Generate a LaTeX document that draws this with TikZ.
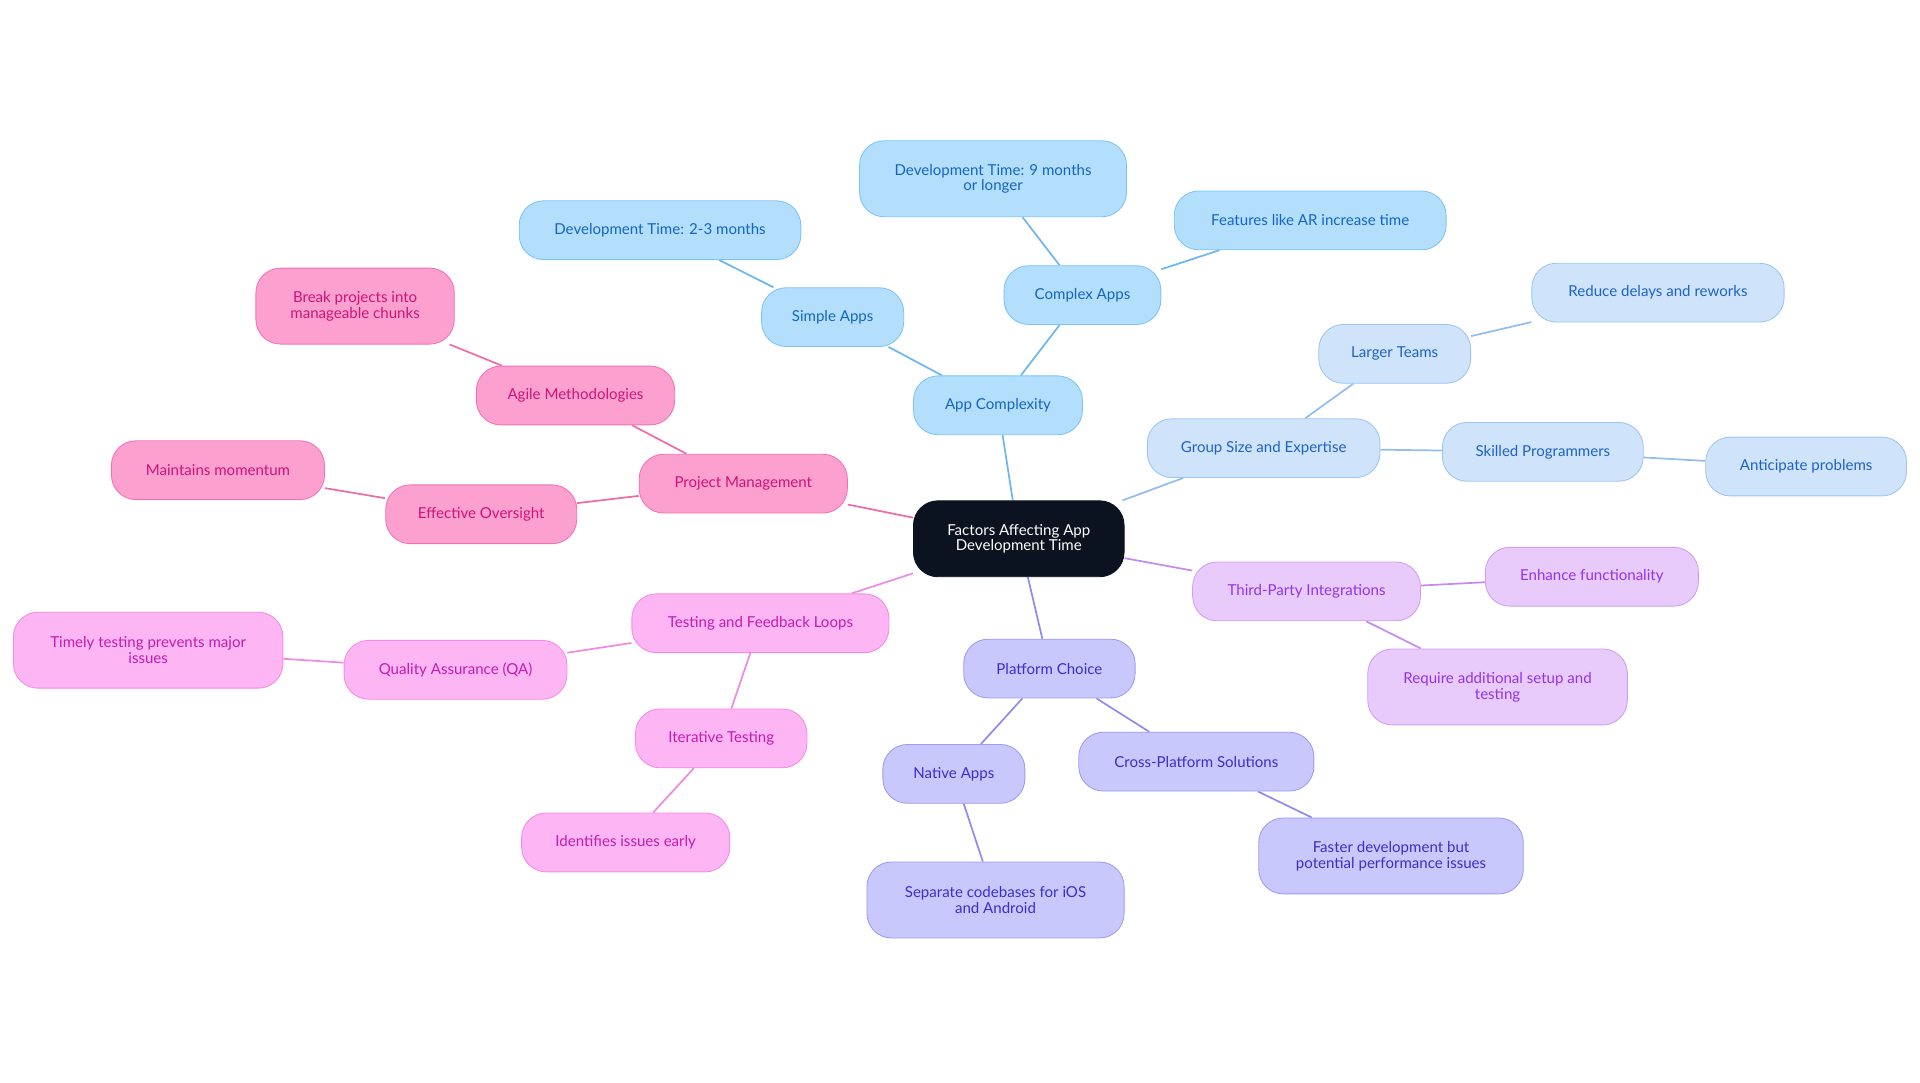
\documentclass[tikz,border=0pt]{standalone}
\usepackage{fontspec}
\setmainfont{Lato}
\usetikzlibrary{backgrounds}
\definecolor{rootc}{HTML}{0B1220}
\definecolor{aF}{HTML}{B3DFFD}\definecolor{aD}{HTML}{7CC4F8}\definecolor{aT}{HTML}{1565C0}\definecolor{aL}{HTML}{6BB7EE}
\definecolor{gF}{HTML}{CFE3FB}\definecolor{gD}{HTML}{9CC5F3}\definecolor{gT}{HTML}{1E63C4}\definecolor{gL}{HTML}{90BEEE}
\definecolor{tF}{HTML}{E8CBFB}\definecolor{tD}{HTML}{D09EF5}\definecolor{tT}{HTML}{9333EA}\definecolor{tL}{HTML}{C58AF0}
\definecolor{pF}{HTML}{C9C8FC}\definecolor{pD}{HTML}{9E9BF5}\definecolor{pT}{HTML}{3B2FC9}\definecolor{pL}{HTML}{8F8BEF}
\definecolor{qF}{HTML}{FDB6F3}\definecolor{qD}{HTML}{F38AE6}\definecolor{qT}{HTML}{C21CB0}\definecolor{qL}{HTML}{F08ADF}
\definecolor{mF}{HTML}{FCA1CF}\definecolor{mD}{HTML}{F272B2}\definecolor{mT}{HTML}{D0127A}\definecolor{mL}{HTML}{EE6BA8}
\tikzset{
 x=0.3mm,y=-0.3mm,
 box/.style={rounded corners=6mm,align=center,line width=0.6pt,minimum height=48*0.3mm,inner sep=2pt,font=\fontsize{10.5}{11}\selectfont},
 nw/.style={minimum width=#1*0.3mm},
 tall/.style={minimum height=62*0.3mm},
 A/.style={box,fill=aF,draw=aD,text=aT}, G/.style={box,fill=gF,draw=gD,text=gT},
 T/.style={box,fill=tF,draw=tD,text=tT}, P/.style={box,fill=pF,draw=pD,text=pT},
 Q/.style={box,fill=qF,draw=qD,text=qT}, M/.style={box,fill=mF,draw=mD,text=mT},
 eA/.style={draw=aL,line width=1.2pt}, eG/.style={draw=gL,line width=1.2pt},
 eT/.style={draw=tL,line width=1.2pt}, eP/.style={draw=pL,line width=1.2pt},
 eQ/.style={draw=qL,line width=1.2pt}, eM/.style={draw=mL,line width=1.2pt},
}
\begin{document}
\begin{tikzpicture}
\useasboundingbox (0,0) rectangle (1568,884);
\node[box,fill=rootc,draw=rootc,text=white,nw=172,tall] (root) at (832,440) {Factors Affecting App\\Development Time};
\node[A,nw=138] (ac) at (815,331) {App Complexity};
\node[A,nw=116] (sa) at (680,259) {Simple Apps};
\node[A,nw=230] (d23) at (539,188) {Development Time: 2-3 months};
\node[A,nw=128] (ca) at (884,241) {Complex Apps};
\node[A,nw=218,tall] (d9) at (811,146) {Development Time: 9 months\\or longer};
\node[A,nw=222] (ar) at (1070,180) {Features like AR increase time};
\node[G,nw=190] (gs) at (1032,366) {Group Size and Expertise};
\node[G,nw=124] (lt) at (1139,289) {Larger Teams};
\node[G,nw=206] (rd) at (1354,239) {Reduce delays and reworks};
\node[G,nw=164] (sp) at (1260,369) {Skilled Programmers};
\node[G,nw=164] (anp) at (1475,381) {Anticipate problems};
\node[T,nw=186] (tp) at (1067,483) {Third-Party Integrations};
\node[T,nw=174] (ef) at (1300,471) {Enhance functionality};
\node[T,nw=212,tall] (ra) at (1223,561) {Require additional setup and\\testing};
\node[P,nw=140] (pc) at (857,546) {Platform Choice};
\node[P,nw=116] (na) at (779,632) {Native Apps};
\node[P,nw=210,tall] (sc) at (813,735) {Separate codebases for iOS\\and Android};
\node[P,nw=192] (cp) at (977,622) {Cross-Platform Solutions};
\node[P,nw=216,tall] (fd) at (1136,699) {Faster development but\\potential performance issues};
\node[Q,nw=210] (tf) at (621,509) {Testing and Feedback Loops};
\node[Q,nw=182] (qa) at (372,547) {Quality Assurance (QA)};
\node[Q,nw=220,tall] (tt) at (121,531) {Timely testing prevents major\\issues};
\node[Q,nw=140] (it) at (589,603) {Iterative Testing};
\node[Q,nw=170] (ie) at (511,688) {Identifies issues early};
\node[M,nw=170] (pm) at (607,395) {Project Management};
\node[M,nw=162] (ag) at (470,323) {Agile Methodologies};
\node[M,nw=162,tall] (br) at (290,250) {Break projects into\\manageable chunks};
\node[M,nw=156] (eo) at (393,420) {Effective Oversight};
\node[M,nw=174] (mm) at (178,384) {Maintains momentum};
\begin{scope}[on background layer]
\draw[eA] (root)--(ac); \draw[eA] (ac)--(sa); \draw[eA] (sa)--(d23); \draw[eA] (ac)--(ca); \draw[eA] (ca)--(d9); \draw[eA] (ca)--(ar);
\draw[eG] (root)--(gs); \draw[eG] (gs)--(lt); \draw[eG] (lt)--(rd); \draw[eG] (gs)--(sp); \draw[eG] (sp)--(anp);
\draw[eT] (root)--(tp); \draw[eT] (tp)--(ef); \draw[eT] (tp)--(ra);
\draw[eP] (root)--(pc); \draw[eP] (pc)--(na); \draw[eP] (na)--(sc); \draw[eP] (pc)--(cp); \draw[eP] (cp)--(fd);
\draw[eQ] (root)--(tf); \draw[eQ] (tf)--(qa); \draw[eQ] (qa)--(tt); \draw[eQ] (tf)--(it); \draw[eQ] (it)--(ie);
\draw[eM] (root)--(pm); \draw[eM] (pm)--(ag); \draw[eM] (ag)--(br); \draw[eM] (pm)--(eo); \draw[eM] (eo)--(mm);
\end{scope}
\end{tikzpicture}
\end{document}
